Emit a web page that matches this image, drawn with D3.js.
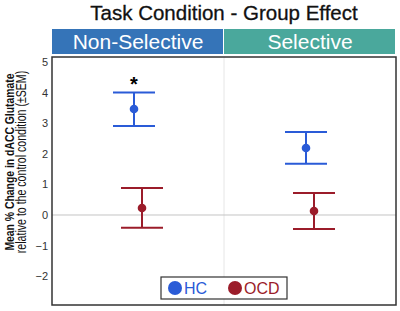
<!DOCTYPE html>
<html>
<head>
<meta charset="utf-8">
<script src="https://cdn.jsdelivr.net/npm/d3@7"></script>
<style>
  body { margin: 0; background: #fff; }
  svg { display: block; font-family: "Liberation Sans", Arial, sans-serif; }
</style>
</head>
<body>
<div class="chart"></div>
<script>
//Data
var conditions = ["Non-Selective", "Selective"];
var groups = ["HC", "OCD"];
var means = [[3.46, 0.23], [2.19, 0.13]];
var upper = [[4.00, 0.88], [2.71, 0.72]];
var lower = [[2.91, -0.42], [1.67, -0.46]];
var yTicks = [-2, -1, 0, 1, 2, 3, 4, 5];
var headerColors = ["#3574b8", "#4aa89c"];
var groupColors = ["#2a5bd7", "#9b1c2a"];

//Width and height
var w = 400;
var h = 311;
var padL = 52, padR = 396, padT = 57, padB = 305;

var svg = d3.select(".chart")
    .append("svg")
    .attr("width", w)
    .attr("height", h);

//Scales
var xScale = d3.scaleBand()
    .domain(conditions)
    .range([padL, padR]);

var dodge = d3.scalePoint()
    .domain(groups)
    .range([-4, 4]);

var yScale = d3.scaleLinear()
    .domain([-2.94, 5.16])
    .range([padB, padT]);

//Title
svg.append("text")
    .attr("x", 224)
    .attr("y", 20)
    .attr("text-anchor", "middle")
    .attr("fill", "#111")
    .attr("stroke", "#111")
    .attr("stroke-width", 0.3)
    .style("font-size", "20.5px")
    .text("Task Condition - Group Effect");

//Header strips
svg.selectAll(".strip")
    .data(conditions)
    .enter()
    .append("rect")
    .attr("x", d => xScale(d))
    .attr("y", 29)
    .attr("width", xScale.bandwidth() - 1)
    .attr("height", 25)
    .attr("fill", (d, i) => headerColors[i]);

svg.selectAll(".stripLabel")
    .data(conditions)
    .enter()
    .append("text")
    .attr("x", d => xScale(d) + xScale.bandwidth() / 2)
    .attr("y", 49)
    .attr("text-anchor", "middle")
    .attr("fill", "#fff")
    .style("font-size", "21px")
    .text(d => d);

//Divider and zero line
svg.append("line")
    .attr("x1", xScale("Selective")).attr("x2", xScale("Selective"))
    .attr("y1", padT).attr("y2", padB)
    .attr("stroke", "#e6e6e6");

svg.append("line")
    .attr("x1", padL).attr("x2", padR)
    .attr("y1", yScale(0)).attr("y2", yScale(0))
    .attr("stroke", "#c4c4c4");

//Y axis
var yAxis = d3.axisLeft(yScale)
    .tickValues(yTicks)
    .tickSize(0)
    .tickPadding(4);
var gy = svg.append("g")
    .attr("transform", "translate(" + padL + ",0)")
    .call(yAxis);
gy.select(".domain").remove();
gy.selectAll("text").style("font-size", "11px").attr("fill", "#333");

//Y label (squeezed along its length like the source image)
var ylab = svg.append("text")
    .attr("transform", "translate(14,162) rotate(-90) scale(1,1.3)")
    .attr("text-anchor", "middle")
    .attr("fill", "#111");
ylab.append("tspan")
    .attr("x", 0).attr("y", 0)
    .style("font-size", "10.4px")
    .style("font-weight", "bold")
    .text("Mean % Change in dACC Glutamate");
ylab.append("tspan")
    .attr("x", 0).attr("y", 9.3)
    .style("font-size", "10.6px")
    .text("relative to the control condition (±SEM)");

//Error bars and points
var rows = [];
conditions.forEach((c, ci) => {
    groups.forEach((g, gi) => {
        rows.push({ c: c, g: g, gi: gi, m: means[ci][gi], hi: upper[ci][gi], lo: lower[ci][gi] });
    });
});
var cx = d => xScale(d.c) + xScale.bandwidth() / 2 + dodge(d.g);

var bars = svg.selectAll(".err")
    .data(rows)
    .enter()
    .append("g")
    .attr("stroke", d => groupColors[d.gi])
    .attr("stroke-width", 2);
bars.append("line")
    .attr("x1", cx).attr("x2", cx)
    .attr("y1", d => yScale(d.hi)).attr("y2", d => yScale(d.lo));
bars.append("line")
    .attr("x1", d => cx(d) - 21).attr("x2", d => cx(d) + 21)
    .attr("y1", d => yScale(d.hi)).attr("y2", d => yScale(d.hi));
bars.append("line")
    .attr("x1", d => cx(d) - 21).attr("x2", d => cx(d) + 21)
    .attr("y1", d => yScale(d.lo)).attr("y2", d => yScale(d.lo));
svg.selectAll(".pt")
    .data(rows)
    .enter()
    .append("circle")
    .attr("cx", cx)
    .attr("cy", d => yScale(d.m))
    .attr("r", 4.3)
    .attr("fill", d => groupColors[d.gi]);

//Significance star
svg.append("text")
    .attr("x", cx(rows[0]))
    .attr("y", yScale(upper[0][0]) - 2)
    .attr("text-anchor", "middle")
    .style("font-size", "20px")
    .style("font-weight", "bold")
    .text("*");

//Plot border
svg.append("rect")
    .attr("x", padL).attr("y", padT)
    .attr("width", padR - padL).attr("height", padB - padT)
    .attr("fill", "none")
    .attr("stroke", "#333")
    .attr("stroke-width", 1.5);

//Legend
var legend = svg.append("g");
legend.append("rect")
    .attr("x", 161).attr("y", 277)
    .attr("width", 126).attr("height", 22)
    .attr("fill", "#fff")
    .attr("stroke", "#333")
    .attr("stroke-width", 1.2);
var items = legend.selectAll(".item")
    .data(groups)
    .enter()
    .append("g")
    .attr("transform", (d, i) => "translate(" + (175 + i * 60) + ",288)");
items.append("circle")
    .attr("r", 7)
    .attr("fill", (d, i) => groupColors[i]);
items.append("text")
    .attr("x", 9)
    .attr("y", 6)
    .attr("fill", (d, i) => groupColors[i])
    .style("font-size", "16px")
    .text(d => d);
</script>
</body>
</html>
